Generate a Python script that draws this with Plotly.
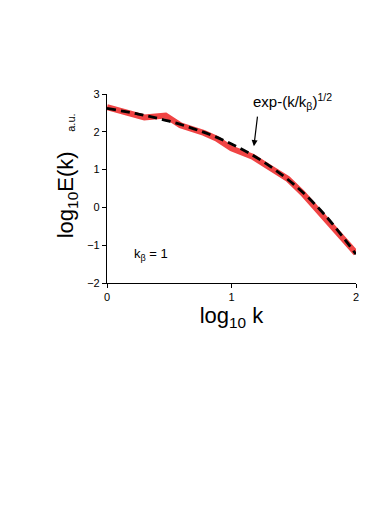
import plotly.graph_objects as go

log_k = [0.0, 0.3, 0.47, 0.59, 0.78, 0.88, 1.0, 1.17, 1.3, 1.45, 1.57, 1.71, 1.85, 2.0]
log_E = [2.65, 2.38, 2.43, 2.17, 1.97, 1.82, 1.56, 1.34, 1.07, 0.76, 0.38, -0.12, -0.62, -1.21]

# stretched-exponential fit (black dashed)
fit_k = [0.0, 0.25, 0.5, 0.75, 1.0, 1.25, 1.5, 1.75, 2.0]
fit_E = [2.62, 2.47, 2.28, 2.02, 1.68, 1.22, 0.61, -0.2, -1.24]

x_ticks = [0, 1, 2]
y_ticks = [-2, -1, 0, 1, 2, 3]

font = "Liberation Sans, Arial, sans-serif"

fig = go.Figure()
fig.add_trace(go.Scatter(x=log_k, y=log_E, mode="lines",
                         line=dict(color="#f04444", width=6),
                         cliponaxis=False, showlegend=False))
fig.add_trace(go.Scatter(x=fit_k, y=fit_E, mode="lines",
                         line=dict(color="black", width=2.8, dash="9px,5px", shape="spline"),
                         cliponaxis=False, showlegend=False))

fig.update_layout(
    width=390, height=510,
    margin=dict(l=107, r=34, t=94, b=227),
    plot_bgcolor="white", paper_bgcolor="white",
    font=dict(family=font, size=11, color="black"),
    xaxis=dict(range=[0, 2], tickvals=x_ticks, showgrid=False, zeroline=False,
               showline=True, linecolor="black", linewidth=1.2,
               ticks="outside", ticklen=4, tickcolor="black",
               title=dict(text="log<sub>10</sub> k", font=dict(size=22), standoff=5)),
    yaxis=dict(range=[-2, 3], tickvals=y_ticks, showgrid=False, zeroline=False,
               showline=True, linecolor="black", linewidth=1.2,
               ticks="outside", ticklen=4, tickcolor="black"),
    annotations=[
        dict(text="log<sub>10</sub>E(k)", xref="paper", yref="paper", x=-0.16, y=0.465,
             xanchor="center", yanchor="middle", textangle=-90, showarrow=False,
             font=dict(size=22)),
        dict(text="a.u.", xref="paper", yref="paper", x=-0.143, y=0.85,
             xanchor="center", yanchor="middle", textangle=-90, showarrow=False,
             font=dict(size=11)),
        dict(text="exp-(k/k<sub>β</sub>)<sup>1/2</sup>", xref="x", yref="y", x=1.16, y=2.8,
             xanchor="left", yanchor="middle", showarrow=False, font=dict(size=15)),
        dict(text="", xref="x", yref="y", x=1.18, y=1.62, ax=1.21, ay=2.44,
             axref="x", ayref="y", showarrow=True, arrowhead=2, arrowsize=1,
             arrowwidth=1.2, arrowcolor="black"),
        dict(text="k<sub>β</sub> = 1", xref="x", yref="y", x=0.2, y=-1.25,
             xanchor="left", yanchor="middle", showarrow=False, font=dict(size=13)),
    ],
)

fig.write_html("out.html", config={"displayModeBar": False},
               post_script="document.body.style.margin='0';")
